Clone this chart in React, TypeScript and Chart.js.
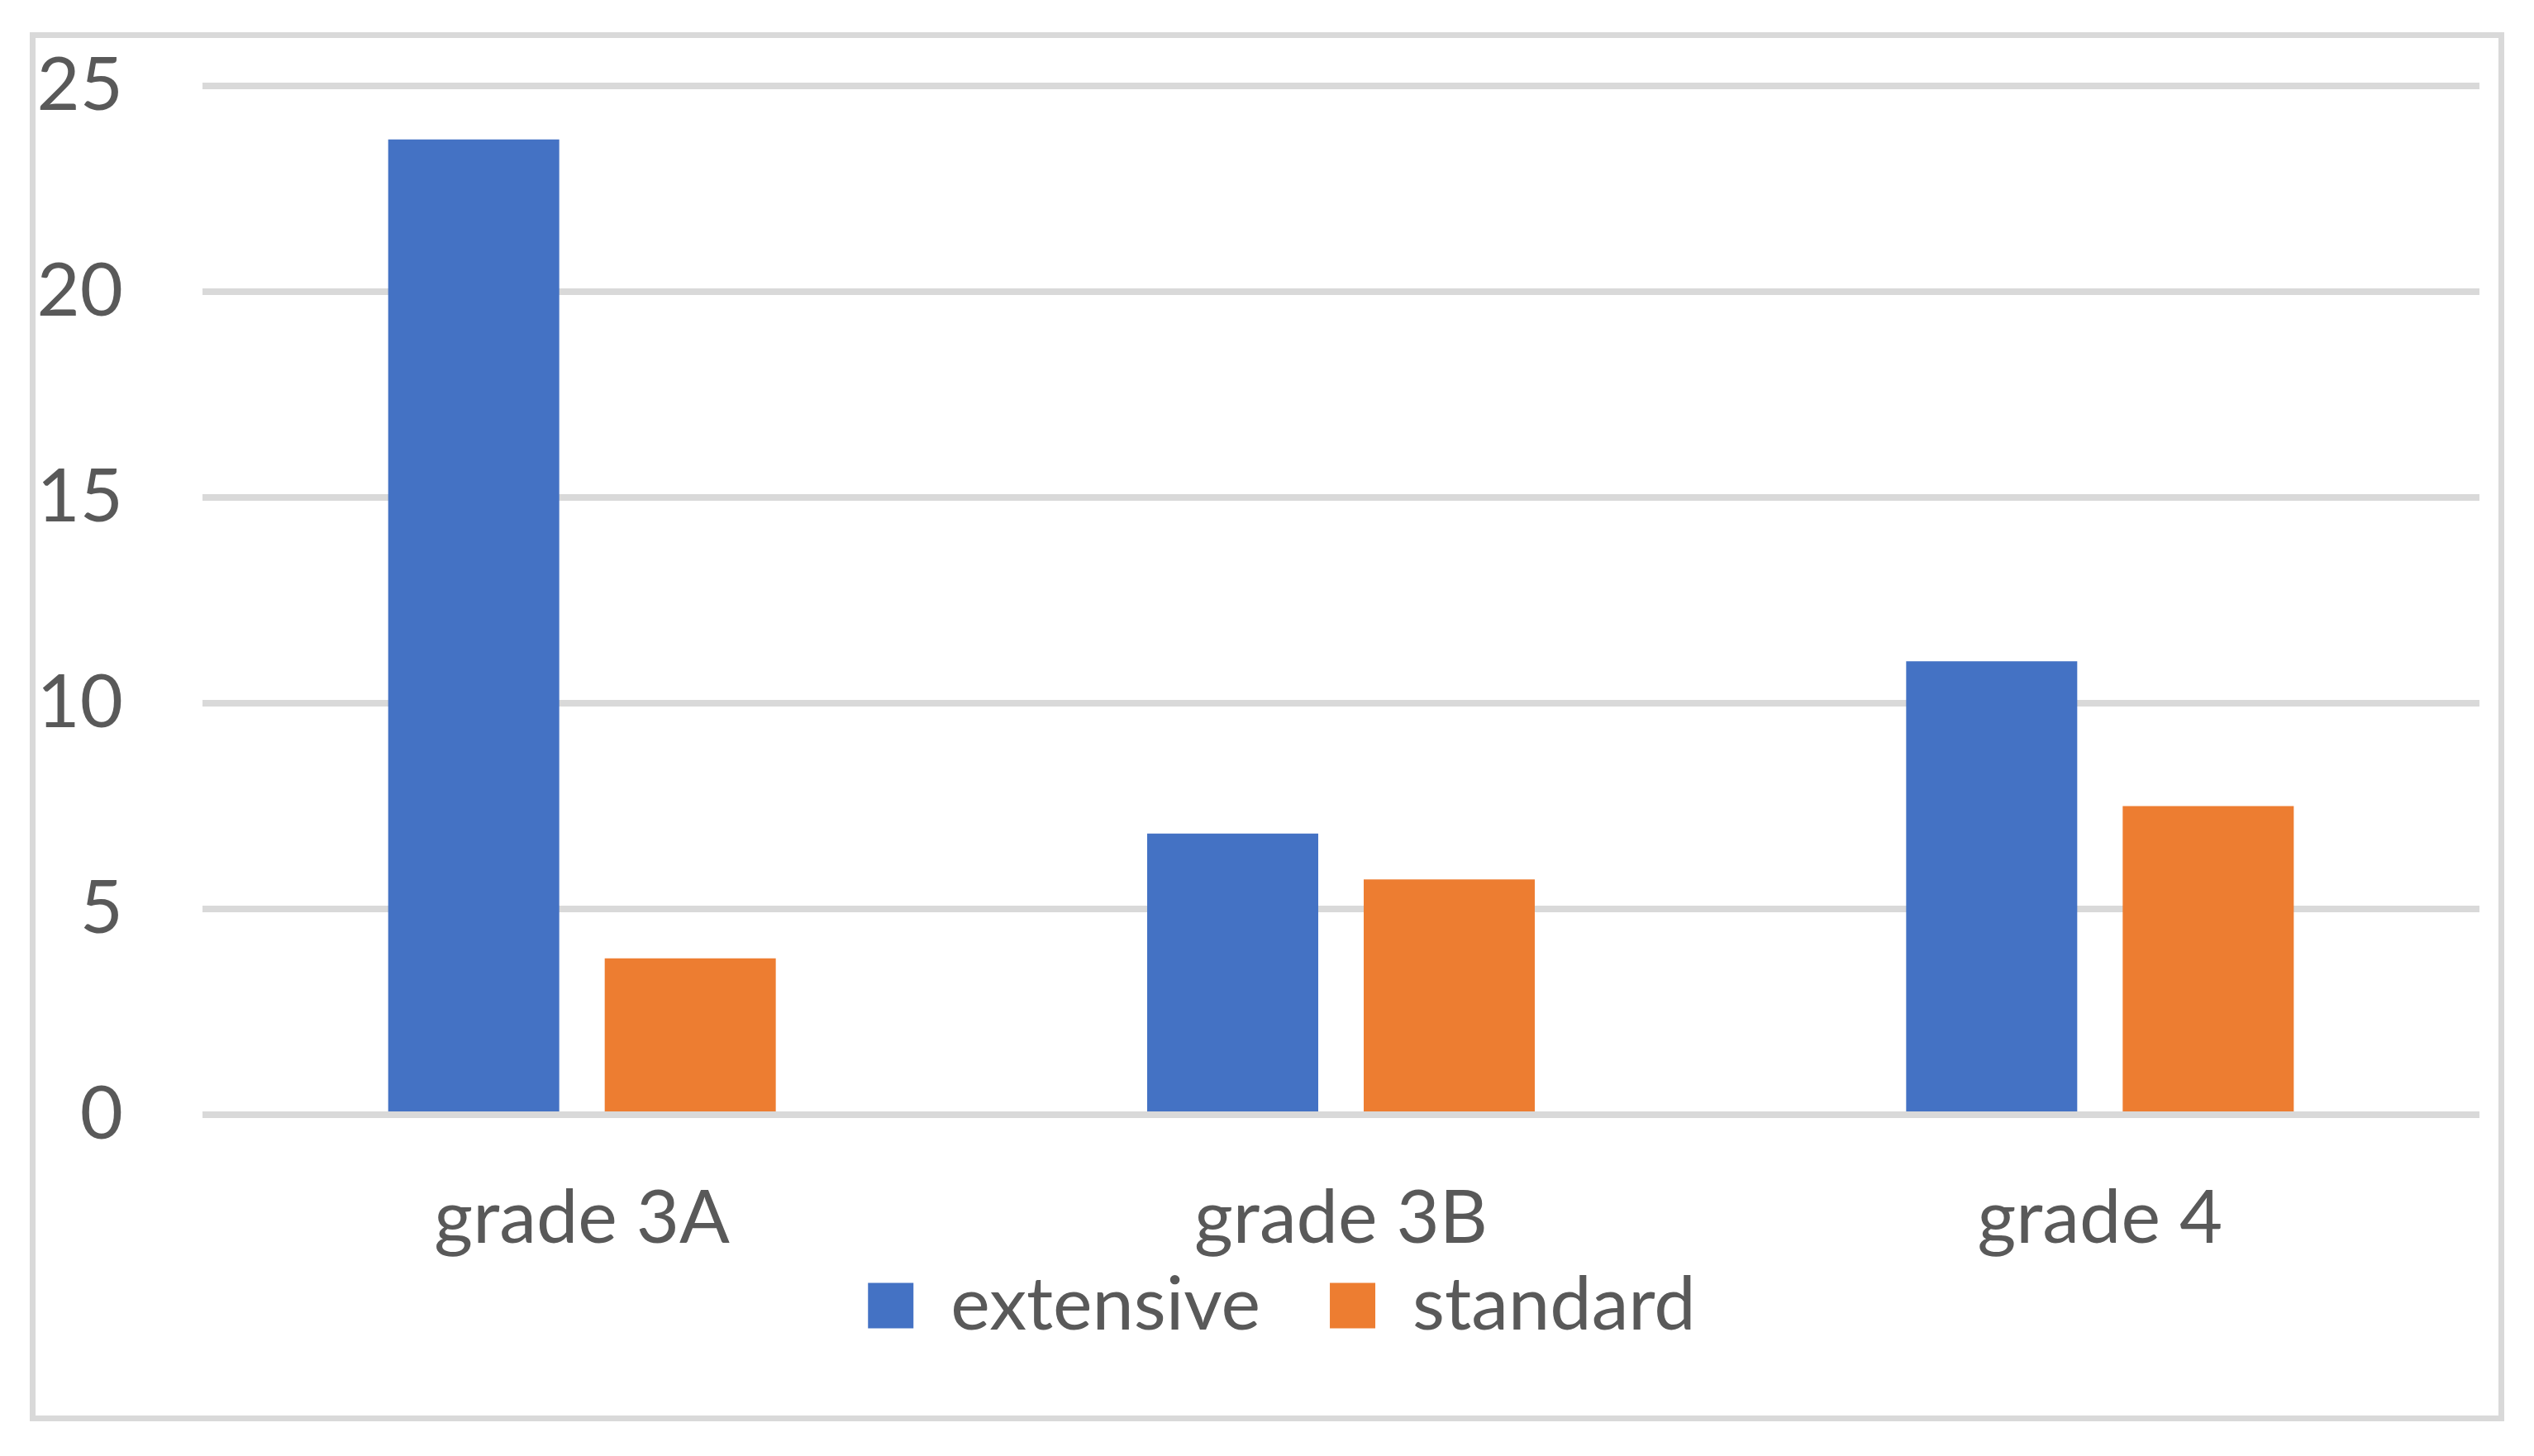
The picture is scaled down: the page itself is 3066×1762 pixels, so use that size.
import React, { useEffect, useRef } from 'react';
import { Chart, registerables } from 'chart.js';

Chart.register(...registerables);

const categories = ['grade 3A', 'grade 3B', 'grade 4'];
const seriesNames = ['extensive', 'standard'];
const extensiveValues = [23.7, 6.83, 11.02];
const standardValues = [3.8, 5.72, 7.5];
const yMin = 0;
const yMax = 25;
const yStep = 5;

const TEXT = '#595959';
const GRID = '#D9D9D9';
const FONT = 'Lato, Carlito, "Open Sans", sans-serif';

const PAD = { left: 40, right: 4, top: 104, bottom: 127 };
const TARGET_BOTTOM = 1349;

export default function App() {
  const ref = useRef<HTMLCanvasElement>(null);

  useEffect(() => {
    const canvas = ref.current;
    if (!canvas) return;
    const chart = new Chart(canvas, {
      type: 'bar',
      data: {
        labels: categories,
        datasets: [
          {
            label: seriesNames[0],
            data: extensiveValues,
            backgroundColor: '#4472C4',
            categoryPercentage: 0.5706,
            barPercentage: 0.79,
          },
          {
            label: seriesNames[1],
            data: standardValues,
            backgroundColor: '#ED7D31',
            categoryPercentage: 0.5706,
            barPercentage: 0.79,
          },
        ],
      },
      options: {
        responsive: false,
        animation: false,
        layout: { padding: { ...PAD } },
        plugins: {
          legend: {
            position: 'bottom',
            labels: {
              boxWidth: 55,
              boxHeight: 55,
              padding: 84,
              color: TEXT,
              font: { size: 90, family: FONT },
            },
          },
          tooltip: { enabled: false },
        },
        scales: {
          x: {
            grid: { display: false, drawTicks: false },
            border: { display: false },
            ticks: { color: TEXT, font: { size: 90, family: FONT }, mirror: true, padding: -180 },
            afterFit: (s: any) => {
              s.height = 102;
              s.paddingLeft = 0;
              s.paddingRight = 0;
            },
          },
          y: {
            min: yMin,
            max: yMax,
            ticks: { stepSize: yStep, padding: 96, color: TEXT, font: { size: 90, family: FONT } },
            grid: { color: GRID, lineWidth: 8, drawTicks: false },
            border: { display: false },
            afterFit: (s: any) => {
              s.width = 205;
              s.paddingTop = 0;
              s.paddingBottom = 0;
            },
          },
          y2: {
            type: 'linear',
            position: 'right',
            display: true,
            grid: { display: false, drawTicks: false },
            border: { display: false },
            ticks: { display: false },
            afterFit: (s: any) => {
              s.width = 62;
              s.paddingTop = 0;
              s.paddingBottom = 0;
            },
          },
        },
      },
    });
    const diff = TARGET_BOTTOM - chart.chartArea.bottom;
    if (Math.abs(diff) > 0.5) {
      (chart.options as any).layout.padding = { ...PAD, bottom: PAD.bottom - diff };
      chart.update();
    }
    return () => chart.destroy();
  }, []);

  return (
    <div style={{ position: 'absolute', left: 0, top: 0, width: 3066, height: 1762, background: '#FFFFFF' }}>
      <div
        style={{
          position: 'absolute',
          left: 36,
          top: 39,
          width: 2994,
          height: 1681,
          border: `7px solid ${GRID}`,
          boxSizing: 'border-box',
        }}
      />
      <canvas ref={ref} width={3066} height={1762} style={{ position: 'absolute', left: 0, top: 0 }} />
    </div>
  );
}
